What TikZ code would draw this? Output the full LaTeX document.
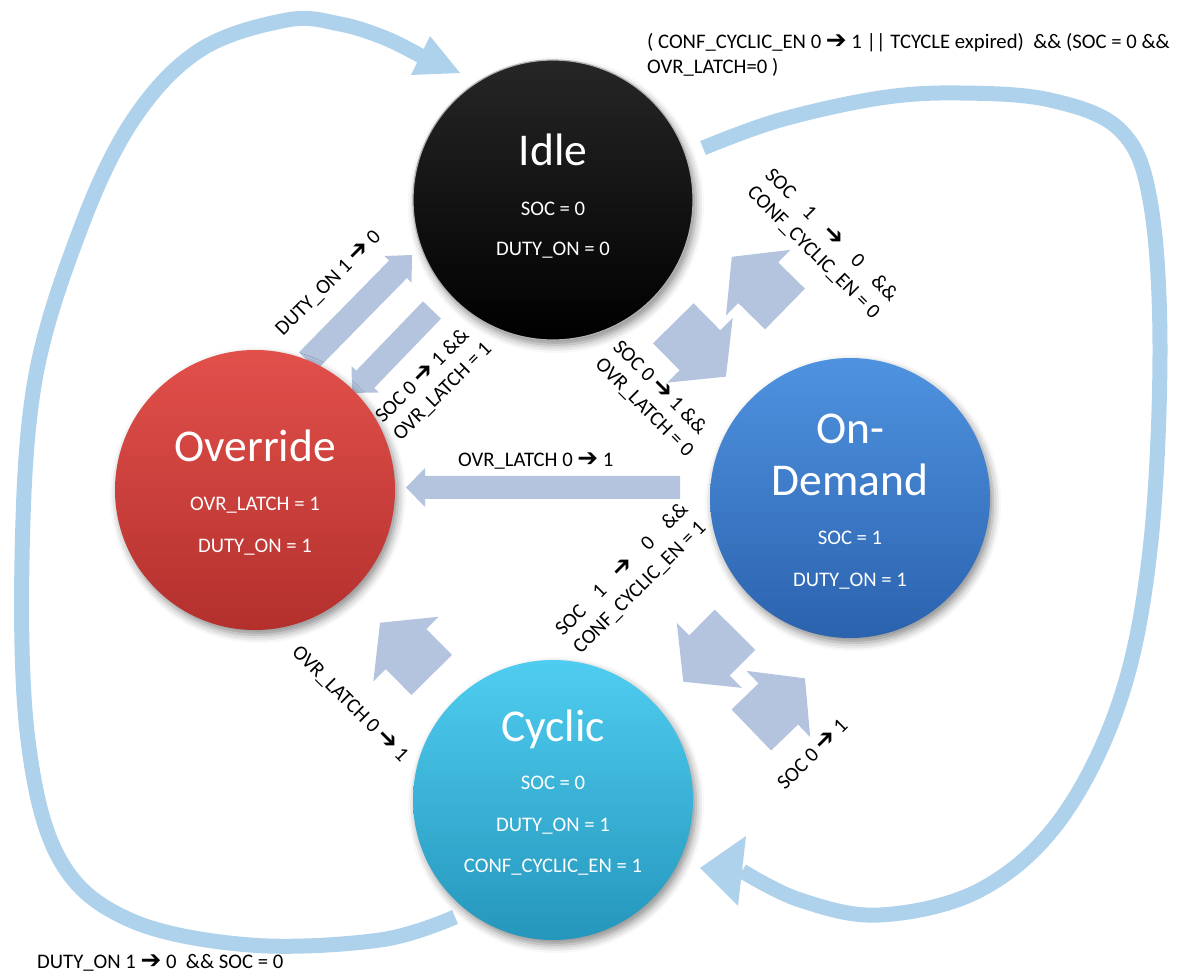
\documentclass[tikz,border=0pt]{standalone}
\usepackage{fontspec}
\setmainfont{Carlito}
\newfontfamily\symfont{DejaVu Sans}
\usepackage{calc}
\usetikzlibrary{shadows.blur}
\definecolor{blk}{HTML}{B4C4DE}
\definecolor{crv}{HTML}{AED2EB}
\definecolor{idleT}{HTML}{262626}
\definecolor{idleB}{HTML}{000000}
\definecolor{ovrT}{HTML}{E2504B}
\definecolor{ovrB}{HTML}{B3302D}
\definecolor{odT}{HTML}{4F93E0}
\definecolor{odB}{HTML}{2B62AE}
\definecolor{cyT}{HTML}{4FCDF0}
\definecolor{cyB}{HTML}{2596BC}
\newcommand\ar{{\symfont\scalebox{1.2}{\symbol{"2794}}}}
\newcommand\lab{\fontsize{20.7}{25}\selectfont}
\newcommand\ttl{\fontsize{45.5}{50}\selectfont}
\newcommand\spread[2]{\makebox[\widthof{#2}][s]{#1}}
% block arrow: x1 y1 x2 y2 shaft headwidth headlength
\newcommand\barrow[7]{%
  \pgfmathsetmacro\bdx{#3-#1}%
  \pgfmathsetmacro\bdy{#4-#2}%
  \pgfmathsetmacro\bang{atan2(-\bdy,\bdx)}%
  \pgfmathsetmacro\blen{veclen(\bdx,\bdy)}%
  \pgfmathsetmacro\bneck{\blen-#7}%
  \fill[blockfill,shift={(#1,#2)},rotate=\bang]
    (0,-#5/2) -- (\bneck,-#5/2) -- (\bneck,-#6/2) -- (\blen,0) --
    (\bneck,#6/2) -- (\bneck,#5/2) -- (0,#5/2) -- cycle;}
\begin{document}
\begin{tikzpicture}[x=1pt,y=-1pt,
  state/.style={circle, minimum size=280pt, inner sep=0pt,
    blur shadow={shadow xshift=3pt, shadow yshift=-5pt, shadow blur radius=8pt, shadow opacity=45}},
  wtxt/.style={text=white, font=\lab, inner sep=0pt, anchor=base},
  ttxt/.style={text=white, font=\ttl, inner sep=0pt, anchor=base},
  lbl/.style={font=\lab, inner sep=0pt, align=left, anchor=base west},
  blockfill/.style={fill=blk},
  bigcurve/.style={draw=crv, line width=15pt},
  headfill/.style={fill=crv}]
\useasboundingbox (0,0) rectangle (1187,973);

% big curved arrows
\coordinate (lstart) at (455,917);
\coordinate (lend) at (421,56);
\draw[bigcurve] plot[smooth, tension=0.6] coordinates {(455,917) (380,940) (250,945) (130,920) (60,860) (28,740) (22,560) (35,380) (80,230) (133,120) (200,50) (287,20) (340,24) (385,38) (421,56)};
\fill[headfill] (460,73) -- (430,36) -- (411,75) -- cycle;

\coordinate (rstart) at (703,148);
\coordinate (rend) at (742,871);
\draw[bigcurve] plot[smooth, tension=0.6] coordinates {(703,148) (780,120) (880,98) (960,93) (1050,100) (1120,130) (1150,200) (1160,350) (1150,550) (1120,700) (1060,820) (980,890) (880,915) (800,900) (742,871)};
\fill[headfill] (700,868) -- (746,836) -- (738,906) -- cycle;

% block arrows
\barrow{308}{361}{412}{255}{25}{38}{20}
\barrow{432}{310}{352}{393}{25}{38}{19}
\barrow{680}{487.5}{406}{487.5}{23}{39}{19}
\barrow{785}{309}{731.7}{256.7}{57}{92}{37}
\barrow{673.3}{323.3}{726}{376.7}{57}{92}{37}
\barrow{735}{629.7}{683.3}{681.7}{57}{92}{37}
\barrow{751.3}{730}{805}{678.3}{57}{92}{37}
\barrow{431.7}{675}{380}{622.7}{57}{92}{37}

% states
\node[state, top color=idleT, bottom color=idleB, draw=gray!60, line width=1.2pt] (idle) at (553,200) {};
\node[state, top color=ovrT, bottom color=ovrB] (ovr) at (255,490) {};
\node[state, top color=odT, bottom color=odB] (od) at (850,498) {};
\node[state, top color=cyT, bottom color=cyB] (cyc) at (553,800) {};

\node[ttxt] (idleT1) at (553,166) {Idle};
\node[wtxt] (idleT2) at (553,216) {SOC = 0};
\node[wtxt] (idleT3) at (553,256) {DUTY\_ON = 0};

\node[ttxt] (ovrT1) at (255,462) {Override};
\node[wtxt] (ovrT2) at (255,511) {OVR\_LATCH = 1};
\node[wtxt] (ovrT3) at (255,553) {DUTY\_ON = 1};

\node[ttxt] (odT1) at (850,444) {On-};
\node[ttxt] (odT2) at (850,496) {Demand};
\node[wtxt] (odT3) at (850,544) {SOC = 1};
\node[wtxt] (odT4) at (850,586) {DUTY\_ON = 1};

\node[ttxt] (cyT1) at (553,741) {Cyclic};
\node[wtxt] (cyT2) at (553,789) {SOC = 0};
\node[wtxt] (cyT3) at (553,831) {DUTY\_ON = 1};
\node[wtxt] (cyT4) at (553,872) {CONF\_CYCLIC\_EN = 1};

% labels (anchor = baseline start of the last line)
\node[lbl] (top) at (647,74) {( CONF\_CYCLIC\_EN 0 \ar{} 1 || TCYCLE expired)\ \ \&\& (SOC = 0 \&\&\\OVR\_LATCH=0 )};
\node[lbl] (bot) at (37,968) {DUTY\_ON 1 \ar{} 0\ \ \&\& SOC = 0};
\node[lbl, rotate=45] (l1) at (283,337) {DUTY\_ON 1 \ar{} 0};
\node[lbl, rotate=45] (l2) at (400.7,441.7) {SOC 0 \ar{} 1 \&\&\\OVR\_LATCH = 1};
\node[lbl, rotate=-45] (l3) at (746.3,193.7) {\spread{SOC\hfill 1\hfill\ar\hfill 0\hfill\&\&}{CONF\_CYCLIC\_EN = 0}\\CONF\_CYCLIC\_EN = 0};
\node[lbl, rotate=-45] (l4) at (594.3,365.7) {SOC 0 \ar{} 1 \&\&\\OVR\_LATCH = 0};
\node[lbl] (l5) at (458,467) {OVR\_LATCH 0 \ar{} 1};
\node[lbl, rotate=45] (l6) at (580.7,654.7) {\spread{SOC\hfill 1\hfill\ar\hfill 0\hfill\&\&}{CONF\_CYCLIC\_EN = 1}\\CONF\_CYCLIC\_EN = 1};
\node[lbl, rotate=-45] (l7) at (291,653) {OVR\_LATCH 0 \ar{} 1};
\node[lbl, rotate=45] (l8) at (785,791) {SOC 0 \ar{} 1};
\end{tikzpicture}
\end{document}
